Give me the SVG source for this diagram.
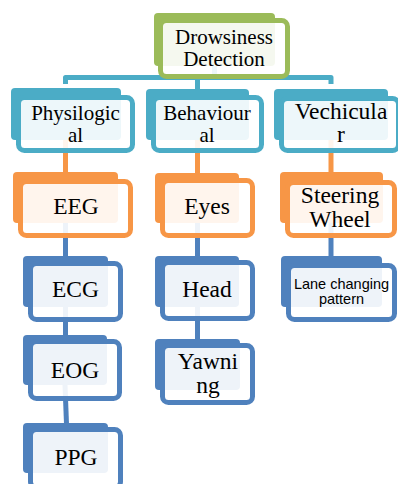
<svg xmlns="http://www.w3.org/2000/svg" width="398" height="484" viewBox="0 0 398 484">
<style>
.bk{stroke:none}
.fr{fill:#fff;fill-opacity:0.9;stroke-width:5}
.g .bk{fill:#9BBB59}.g .fr{stroke:#9BBB59}
.t .bk{fill:#4BACC6}.t .fr{stroke:#4BACC6}
.o .bk{fill:#F79646}.o .fr{stroke:#F79646}
.b .bk{fill:#4F81BD}.b .fr{stroke:#4F81BD}
text{font-family:"Liberation Serif","Times New Roman",serif;fill:#000;text-anchor:middle}
.s21{font-size:21px}
.s23{font-size:23.5px}
.sans{font-family:"Liberation Sans",Arial,sans-serif;font-size:14.5px}
.c{fill:none;stroke-width:5;stroke-linejoin:round}
</style>
<rect width="398" height="484" fill="#fff"/>
<g id="connectors">
<path class="c" stroke="#4BACC6" d="M65.5,84 V77.5 H331 V84"/>
<path class="c" stroke="#4BACC6" d="M197.5,77.5 V89"/>
<path class="c" stroke="#4BACC6" d="M214.5,66 V77.5"/>
<path class="c" stroke="#F79646" d="M65.5,140 V173"/>
<path class="c" stroke="#F79646" d="M197.5,140 V174"/>
<path class="c" stroke="#F79646" d="M331,140 V173"/>
<path class="c" stroke="#4F81BD" d="M65.5,223 V257"/>
<path class="c" stroke="#4F81BD" d="M197.5,223 V257"/>
<path class="c" stroke="#4F81BD" d="M331,223 V257"/>
<path class="c" stroke="#4F81BD" d="M65.5,307 V336"/>
<path class="c" stroke="#4F81BD" d="M197.5,307 V340"/>
<path class="c" stroke="#4F81BD" d="M65,385 L66.5,424"/>
</g>
<g id="node-root" class="g">
<rect class="bk" x="154" y="13" width="121" height="53" rx="4"/>
<rect class="fr" x="160.5" y="20.5" width="127" height="56" rx="6"/>
<text class="s21" x="224" y="43.5">Drowsiness</text>
<text class="s21" x="224" y="66">Detection</text>
</g>
<g id="node-physiological" class="t">
<rect class="bk" x="11" y="88" width="110" height="52" rx="4"/>
<rect class="fr" x="18.5" y="97.5" width="114" height="53" rx="6"/>
<text class="s21" x="75.5" y="119.5">Physilogic</text>
<text class="s21" x="75.5" y="142">al</text>
</g>
<g id="node-behavioural" class="t">
<rect class="bk" x="146" y="89" width="103" height="51" rx="4"/>
<rect class="fr" x="153.5" y="97.5" width="108" height="53" rx="6"/>
<text class="s21" x="207" y="119.5">Behaviour</text>
<text class="s21" x="207" y="142">al</text>
</g>
<g id="node-vehicular" class="t">
<rect class="bk" x="274" y="89" width="114" height="51" rx="4"/>
<rect class="fr" x="281.5" y="98.5" width="117" height="52" rx="6"/>
<text class="s23" x="341" y="118.5">Vechicula</text>
<text class="s23" x="341" y="142">r</text>
</g>
<g id="node-eeg" class="o">
<rect class="bk" x="13" y="172" width="105" height="51" rx="4"/>
<rect class="fr" x="20.5" y="181.5" width="110" height="54" rx="6"/>
<text class="s23" x="76" y="214">EEG</text>
</g>
<g id="node-eyes" class="o">
<rect class="bk" x="155" y="173" width="84" height="50" rx="4"/>
<rect class="fr" x="162.5" y="180.5" width="90" height="55" rx="6"/>
<text class="s23" x="207" y="214">Eyes</text>
</g>
<g id="node-steering" class="o">
<rect class="bk" x="280" y="172" width="103" height="51" rx="4"/>
<rect class="fr" x="287.5" y="182.5" width="107" height="53" rx="6"/>
<text class="s23" x="340" y="203">Steering</text>
<text class="s23" x="340" y="227">Wheel</text>
</g>
<g id="node-ecg" class="b">
<rect class="bk" x="23" y="256" width="85" height="51" rx="4"/>
<rect class="fr" x="30.5" y="263.5" width="90" height="56" rx="6"/>
<text class="s23" x="75.5" y="297">ECG</text>
</g>
<g id="node-head" class="b">
<rect class="bk" x="155" y="256" width="84" height="51" rx="4"/>
<rect class="fr" x="162.5" y="262.5" width="90" height="56" rx="6"/>
<text class="s23" x="207" y="297">Head</text>
</g>
<g id="node-lane" class="b">
<rect class="bk" x="281" y="256" width="101" height="51" rx="4"/>
<rect class="fr" x="288.5" y="265.5" width="106" height="54" rx="6"/>
<text class="sans" x="341.5" y="288.5">Lane changing</text>
<text class="sans" x="341.5" y="304">pattern</text>
</g>
<g id="node-eog" class="b">
<rect class="bk" x="23" y="335" width="84" height="50" rx="4"/>
<rect class="fr" x="30.5" y="341.5" width="89" height="57" rx="6"/>
<text class="s23" x="75" y="378">EOG</text>
</g>
<g id="node-yawning" class="b">
<rect class="bk" x="155" y="339" width="85" height="51" rx="4"/>
<rect class="fr" x="162.5" y="345.5" width="90" height="57" rx="6"/>
<text class="s23" x="208" y="369">Yawni</text>
<text class="s23" x="208" y="393">ng</text>
</g>
<g id="node-ppg" class="b">
<rect class="bk" x="23" y="423" width="85" height="50" rx="4"/>
<rect class="fr" x="30.5" y="429.5" width="90" height="58" rx="6"/>
<text class="s23" x="76" y="465">PPG</text>
</g>
</svg>
